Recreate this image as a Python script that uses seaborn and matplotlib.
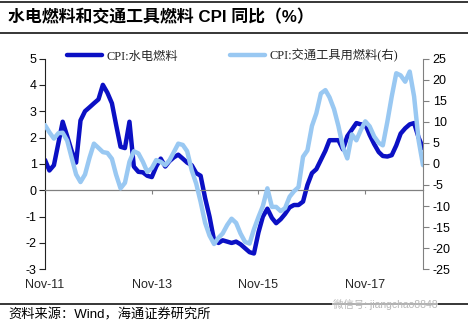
import numpy as np
import pandas as pd
import matplotlib
matplotlib.use("Agg")
import matplotlib.pyplot as plt
import matplotlib.dates as mdates
from matplotlib.lines import Line2D
import seaborn as sns

# ---------------- data ----------------
months = pd.date_range("2011-11-01", "2018-12-01", freq="MS")

cpi_fuel_utilities = [
    1.15, 0.75, 0.95, 1.8, 2.6, 2.05, 1.5, 1.05, 2.65, 3.0,
    3.15, 3.3, 3.45, 4.0, 3.7, 3.3, 2.5, 1.65, 1.6, 2.6,
    0.9, 0.7, 0.68, 0.55, 0.5, 0.9, 1.2, 0.9, 1.1, 1.25,
    1.35, 1.2, 1.05, 0.95, 0.65, 0.55, -0.3, -1.0, -1.9, -2.0,
    -1.9, -1.95, -2.0, -1.95, -2.05, -2.2, -2.35, -2.4, -1.6, -1.0,
    -0.7, -1.05, -1.25, -1.1, -0.9, -0.65, -0.56, -0.56, -0.43, 0.2,
    0.65, 0.8, 1.15, 1.5, 1.9, 1.9, 1.9, 1.55, 2.05, 2.3,
    2.55, 2.5, 2.5, 2.1, 1.75, 1.45, 1.3, 1.28, 1.33, 1.7,
    2.15, 2.35, 2.5, 2.55, 2.0, 1.6,
]

cpi_vehicle_fuel = [
    9.2, 7.5, 6.0, 7.3, 7.4, 5.5, 1.5, -2.5, -4.3, -2.5,
    1.5, 4.8, 3.8, 2.8, 2.6, 1.2, -2.5, -5.8, -4.5, 0.5,
    3.0, 2.5, 0.5, -1.9, -1.0, 0.9, 0.5, -0.3, 0.8, 2.8,
    4.8, 4.5, 3.0, -1.5, -4.7, -9.0, -14.0, -17.0, -19.0, -17.5,
    -16.5, -14.5, -13.0, -14.0, -16.5, -18.5, -18.9, -15.5, -12.6, -10.0,
    -5.8, -10.2, -10.2, -11.2, -10.5, -7.8, -6.5, -5.5, 1.7, 3.2,
    9.0, 12.0, 16.7, 17.5, 15.8, 13.0, 9.0, 4.0, 1.3, 7.0,
    5.6, 8.0, 10.1, 8.9, 6.5, 5.0, 4.4, 10.0, 16.0, 21.5,
    21.0, 19.5, 21.9, 16.0, 5.6, -0.3,
]

series_labels = ["CPI:水电燃料", "CPI:交通工具用燃料(右)"]
tick_dates = pd.to_datetime(["2011-11-01", "2013-11-01", "2015-11-01", "2017-11-01"])
tick_labels = ["Nov-11", "Nov-13", "Nov-15", "Nov-17"]
left_ticks = list(range(-3, 6))
right_ticks = list(range(-25, 30, 5))

title_text = "水电燃料和交通工具燃料 CPI 同比（%）"
source_text = "资料来源：Wind，海通证券研究所"
watermark_text = "微信号: jiangchao8848"

# ---------------- style ----------------
sns.set_style("white")
plt.rcParams["font.family"] = ["Liberation Sans", "Noto Sans CJK SC", "DejaVu Sans"]
plt.rcParams["axes.unicode_minus"] = False

dark = "#0B10C4"
light = "#99C8F2"

W, H = 468, 326
fig = plt.figure(figsize=(W / 100, H / 100), dpi=100)
fig.patch.set_facecolor("white")

x0, x1, ytop, ybot = 45, 423, 58.5, 269.3
ax = fig.add_axes([x0 / W, 1 - ybot / H, (x1 - x0) / W, (ybot - ytop) / H])
ax2 = ax.twinx()

df = pd.DataFrame({"month": months, "a": cpi_fuel_utilities, "b": cpi_vehicle_fuel})

sns.lineplot(data=df, x="month", y="a", ax=ax, color=dark, linewidth=3.2)
sns.lineplot(data=df, x="month", y="b", ax=ax2, color=light, linewidth=3.2)

ax.set_xlim(months[0], months[-1])
ax.set_ylim(-3, 5)
ax2.set_ylim(-25, 25)
ax.set_xlabel("")
ax.set_ylabel("")
ax2.set_ylabel("")

# left axis
ax.set_yticks(left_ticks)
ax.tick_params(axis="y", direction="out", length=4, width=0.8, color="#222222",
               pad=2, labelsize=9, labelcolor="black", left=True)
ax.spines["left"].set_color("#222222")
ax.spines["left"].set_linewidth(0.8)
ax.spines["top"].set_visible(False)
ax.spines["right"].set_visible(False)

# zero line as bottom spine
ax.spines["bottom"].set_position(("data", 0))
ax.spines["bottom"].set_color("#808080")
ax.spines["bottom"].set_linewidth(0.9)
ax.set_xticks(tick_dates)
ax.tick_params(axis="x", direction="out", length=3, width=0.8, color="#808080",
               labelbottom=False, bottom=True)

# labels at the bottom edge
sec = ax.secondary_xaxis("bottom")
sec.set_xticks(mdates.date2num(tick_dates), labels=tick_labels)
sec.tick_params(length=0, pad=7, labelsize=9)
sec.spines["bottom"].set_visible(False)

# right axis
ax2.set_yticks(right_ticks)
ax2.tick_params(axis="y", direction="out", length=4, width=0.8, color="#808080",
                pad=3, labelsize=9, labelcolor="black", right=True)
for s in ["left", "top", "bottom"]:
    ax2.spines[s].set_visible(False)
ax2.spines["right"].set_color("#808080")
ax2.spines["right"].set_linewidth(0.8)
ax.grid(False)
ax2.grid(False)

# legend
handles = [Line2D([], [], color=dark, linewidth=3.2),
           Line2D([], [], color=light, linewidth=3.2)]
fig.legend(handles, series_labels, loc="center left",
           bbox_to_anchor=(67 / W, 1 - 56 / H), ncol=2, frameon=False,
           handlelength=2.9, handletextpad=0.35, columnspacing=4.2,
           borderpad=0, borderaxespad=0,
           prop={"family": ["Liberation Serif", "Noto Sans CJK SC"], "size": 8.8})

# title and rules
fig.text(8 / W, 1 - 17 / H, title_text, fontsize=12.2, fontweight="bold",
         ha="left", va="center", color="black")
for yy in (2, 33, 304):
    fig.add_artist(Line2D([0, 1], [1 - yy / H, 1 - yy / H],
                          transform=fig.transFigure, color="black", linewidth=1.1))

fig.text(8 / W, 1 - 315 / H, source_text, fontsize=9.5, ha="left", va="center",
         color="black")
fig.text(333 / W, 1 - 304 / H, watermark_text, fontsize=7.5, ha="left",
         va="center", color="#b8b8b8",
         bbox=dict(facecolor="white", edgecolor="none", pad=0.5, alpha=0.6))

fig.savefig("out.png", dpi=100, facecolor="white")
